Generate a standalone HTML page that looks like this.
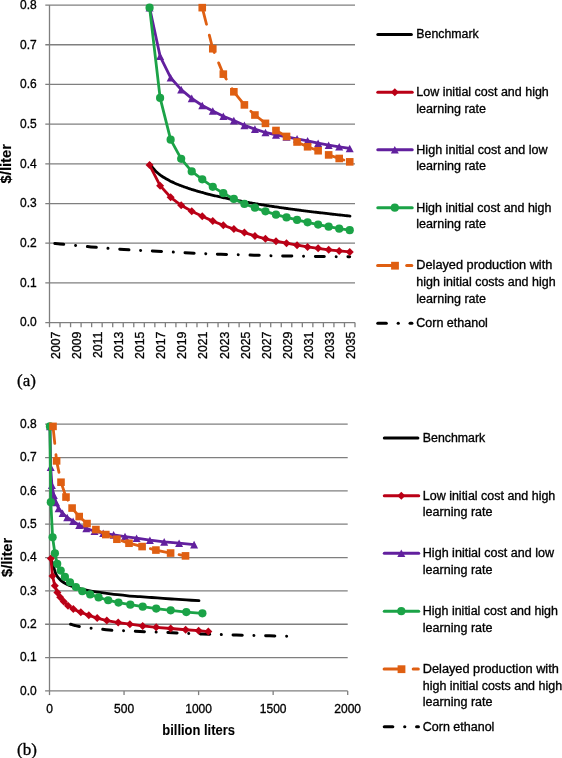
<!DOCTYPE html><html><head><meta charset="utf-8"><style>html,body{margin:0;padding:0;background:#fff;width:562px;height:758px;overflow:hidden}svg{display:block;will-change:transform}text{stroke:#000;stroke-width:0.32px}</style></head><body>
<svg width="562" height="758" viewBox="0 0 562 758">
<rect width="562" height="758" fill="#fff"/>
<line x1="45.3" y1="322.6" x2="355" y2="322.6" stroke="#7F7F7F" stroke-width="1.3"/>
<line x1="45.3" y1="282.91" x2="355" y2="282.91" stroke="#7F7F7F" stroke-width="1.3"/>
<line x1="45.3" y1="243.22" x2="355" y2="243.22" stroke="#7F7F7F" stroke-width="1.3"/>
<line x1="45.3" y1="203.53" x2="355" y2="203.53" stroke="#7F7F7F" stroke-width="1.3"/>
<line x1="45.3" y1="163.84" x2="355" y2="163.84" stroke="#7F7F7F" stroke-width="1.3"/>
<line x1="45.3" y1="124.15" x2="355" y2="124.15" stroke="#7F7F7F" stroke-width="1.3"/>
<line x1="45.3" y1="84.46" x2="355" y2="84.46" stroke="#7F7F7F" stroke-width="1.3"/>
<line x1="45.3" y1="44.77" x2="355" y2="44.77" stroke="#7F7F7F" stroke-width="1.3"/>
<line x1="45.3" y1="5.08" x2="355" y2="5.08" stroke="#7F7F7F" stroke-width="1.3"/>
<line x1="49.5" y1="5.08" x2="49.5" y2="322.6" stroke="#7F7F7F" stroke-width="1.3"/>
<line x1="49.5" y1="322.6" x2="49.5" y2="327.2" stroke="#7F7F7F" stroke-width="1.3"/>
<line x1="60.03" y1="322.6" x2="60.03" y2="327.2" stroke="#7F7F7F" stroke-width="1.3"/>
<line x1="70.57" y1="322.6" x2="70.57" y2="327.2" stroke="#7F7F7F" stroke-width="1.3"/>
<line x1="81.1" y1="322.6" x2="81.1" y2="327.2" stroke="#7F7F7F" stroke-width="1.3"/>
<line x1="91.64" y1="322.6" x2="91.64" y2="327.2" stroke="#7F7F7F" stroke-width="1.3"/>
<line x1="102.17" y1="322.6" x2="102.17" y2="327.2" stroke="#7F7F7F" stroke-width="1.3"/>
<line x1="112.71" y1="322.6" x2="112.71" y2="327.2" stroke="#7F7F7F" stroke-width="1.3"/>
<line x1="123.24" y1="322.6" x2="123.24" y2="327.2" stroke="#7F7F7F" stroke-width="1.3"/>
<line x1="133.78" y1="322.6" x2="133.78" y2="327.2" stroke="#7F7F7F" stroke-width="1.3"/>
<line x1="144.31" y1="322.6" x2="144.31" y2="327.2" stroke="#7F7F7F" stroke-width="1.3"/>
<line x1="154.84" y1="322.6" x2="154.84" y2="327.2" stroke="#7F7F7F" stroke-width="1.3"/>
<line x1="165.38" y1="322.6" x2="165.38" y2="327.2" stroke="#7F7F7F" stroke-width="1.3"/>
<line x1="175.91" y1="322.6" x2="175.91" y2="327.2" stroke="#7F7F7F" stroke-width="1.3"/>
<line x1="186.45" y1="322.6" x2="186.45" y2="327.2" stroke="#7F7F7F" stroke-width="1.3"/>
<line x1="196.98" y1="322.6" x2="196.98" y2="327.2" stroke="#7F7F7F" stroke-width="1.3"/>
<line x1="207.52" y1="322.6" x2="207.52" y2="327.2" stroke="#7F7F7F" stroke-width="1.3"/>
<line x1="218.05" y1="322.6" x2="218.05" y2="327.2" stroke="#7F7F7F" stroke-width="1.3"/>
<line x1="228.59" y1="322.6" x2="228.59" y2="327.2" stroke="#7F7F7F" stroke-width="1.3"/>
<line x1="239.12" y1="322.6" x2="239.12" y2="327.2" stroke="#7F7F7F" stroke-width="1.3"/>
<line x1="249.66" y1="322.6" x2="249.66" y2="327.2" stroke="#7F7F7F" stroke-width="1.3"/>
<line x1="260.19" y1="322.6" x2="260.19" y2="327.2" stroke="#7F7F7F" stroke-width="1.3"/>
<line x1="270.72" y1="322.6" x2="270.72" y2="327.2" stroke="#7F7F7F" stroke-width="1.3"/>
<line x1="281.26" y1="322.6" x2="281.26" y2="327.2" stroke="#7F7F7F" stroke-width="1.3"/>
<line x1="291.79" y1="322.6" x2="291.79" y2="327.2" stroke="#7F7F7F" stroke-width="1.3"/>
<line x1="302.33" y1="322.6" x2="302.33" y2="327.2" stroke="#7F7F7F" stroke-width="1.3"/>
<line x1="312.86" y1="322.6" x2="312.86" y2="327.2" stroke="#7F7F7F" stroke-width="1.3"/>
<line x1="323.4" y1="322.6" x2="323.4" y2="327.2" stroke="#7F7F7F" stroke-width="1.3"/>
<line x1="333.93" y1="322.6" x2="333.93" y2="327.2" stroke="#7F7F7F" stroke-width="1.3"/>
<line x1="344.47" y1="322.6" x2="344.47" y2="327.2" stroke="#7F7F7F" stroke-width="1.3"/>
<line x1="355" y1="322.6" x2="355" y2="327.2" stroke="#7F7F7F" stroke-width="1.3"/>
<text x="36.7" y="326.4" font-family="Liberation Sans, sans-serif" font-size="12" text-anchor="end">0.0</text>
<text x="36.7" y="286.71" font-family="Liberation Sans, sans-serif" font-size="12" text-anchor="end">0.1</text>
<text x="36.7" y="247.02" font-family="Liberation Sans, sans-serif" font-size="12" text-anchor="end">0.2</text>
<text x="36.7" y="207.33" font-family="Liberation Sans, sans-serif" font-size="12" text-anchor="end">0.3</text>
<text x="36.7" y="167.64" font-family="Liberation Sans, sans-serif" font-size="12" text-anchor="end">0.4</text>
<text x="36.7" y="127.95" font-family="Liberation Sans, sans-serif" font-size="12" text-anchor="end">0.5</text>
<text x="36.7" y="88.26" font-family="Liberation Sans, sans-serif" font-size="12" text-anchor="end">0.6</text>
<text x="36.7" y="48.57" font-family="Liberation Sans, sans-serif" font-size="12" text-anchor="end">0.7</text>
<text x="36.7" y="8.88" font-family="Liberation Sans, sans-serif" font-size="12" text-anchor="end">0.8</text>
<text transform="translate(59.97,331.6) rotate(-90)" font-family="Liberation Sans, sans-serif" font-size="12.3" text-anchor="end">2007</text>
<text transform="translate(81.04,331.6) rotate(-90)" font-family="Liberation Sans, sans-serif" font-size="12.3" text-anchor="end">2009</text>
<text transform="translate(102.11,331.6) rotate(-90)" font-family="Liberation Sans, sans-serif" font-size="12.3" text-anchor="end">2011</text>
<text transform="translate(123.17,331.6) rotate(-90)" font-family="Liberation Sans, sans-serif" font-size="12.3" text-anchor="end">2013</text>
<text transform="translate(144.24,331.6) rotate(-90)" font-family="Liberation Sans, sans-serif" font-size="12.3" text-anchor="end">2015</text>
<text transform="translate(165.31,331.6) rotate(-90)" font-family="Liberation Sans, sans-serif" font-size="12.3" text-anchor="end">2017</text>
<text transform="translate(186.38,331.6) rotate(-90)" font-family="Liberation Sans, sans-serif" font-size="12.3" text-anchor="end">2019</text>
<text transform="translate(207.45,331.6) rotate(-90)" font-family="Liberation Sans, sans-serif" font-size="12.3" text-anchor="end">2021</text>
<text transform="translate(228.52,331.6) rotate(-90)" font-family="Liberation Sans, sans-serif" font-size="12.3" text-anchor="end">2023</text>
<text transform="translate(249.59,331.6) rotate(-90)" font-family="Liberation Sans, sans-serif" font-size="12.3" text-anchor="end">2025</text>
<text transform="translate(270.66,331.6) rotate(-90)" font-family="Liberation Sans, sans-serif" font-size="12.3" text-anchor="end">2027</text>
<text transform="translate(291.73,331.6) rotate(-90)" font-family="Liberation Sans, sans-serif" font-size="12.3" text-anchor="end">2029</text>
<text transform="translate(312.79,331.6) rotate(-90)" font-family="Liberation Sans, sans-serif" font-size="12.3" text-anchor="end">2031</text>
<text transform="translate(333.86,331.6) rotate(-90)" font-family="Liberation Sans, sans-serif" font-size="12.3" text-anchor="end">2033</text>
<text transform="translate(354.93,331.6) rotate(-90)" font-family="Liberation Sans, sans-serif" font-size="12.3" text-anchor="end">2035</text>
<text transform="translate(11.3,183.4) rotate(-90)" font-family="Liberation Sans, sans-serif" font-size="14" font-weight="bold" textLength="39.3" lengthAdjust="spacingAndGlyphs" style="stroke-width:0.15px">$/liter</text>
<path d="M54.8,243.5 C55.67,243.57 53.97,243.33 60,243.9 C66.03,244.47 80.33,245.97 91,246.9 C101.67,247.83 113,248.78 124,249.5 C135,250.22 146,250.62 157,251.2 C168,251.78 179.33,252.48 190,253 C200.67,253.52 210.33,253.93 221,254.3 C231.67,254.67 243,254.92 254,255.2 C265,255.48 276,255.78 287,256 C298,256.22 309.55,256.37 320,256.5 C330.45,256.63 344.75,256.75 349.7,256.8" fill="none" stroke="#000" stroke-width="3" stroke-dasharray="9.2 11.7 0.01 11.7" stroke-linecap="round"/>
<path d="M149.6,164.47 C149.67,164.35 149.85,163.75 150,163.74 C150.15,163.73 150.33,164.16 150.5,164.4 C150.67,164.65 150.83,164.94 151,165.2 C151.17,165.47 151.33,165.73 151.5,165.98 C151.67,166.24 151.75,166.37 152,166.72 C152.25,167.07 152.67,167.65 153,168.08 C153.33,168.51 153.58,168.82 154,169.29 C154.42,169.76 155,170.4 155.5,170.91 C156,171.41 156.58,171.95 157,172.33 C157.42,172.72 157.5,172.8 158,173.21 C158.5,173.62 159.33,174.29 160,174.8 C160.67,175.3 161.33,175.77 162,176.23 C162.67,176.68 163.33,177.11 164,177.53 C164.67,177.95 165.33,178.34 166,178.73 C166.67,179.12 167.33,179.49 168,179.85 C168.67,180.21 169.33,180.55 170,180.89 C170.67,181.23 171.33,181.55 172,181.87 C172.67,182.19 173.33,182.5 174,182.8 C174.67,183.1 175.33,183.4 176,183.68 C176.67,183.97 177.33,184.25 178,184.52 C178.67,184.8 179.33,185.07 180,185.33 C180.67,185.59 181.33,185.85 182,186.1 C182.67,186.35 183.33,186.6 184,186.84 C184.67,187.08 185.33,187.32 186,187.55 C186.67,187.78 187.33,188.01 188,188.23 C188.67,188.46 189.33,188.68 190,188.9 C190.67,189.12 191.33,189.33 192,189.54 C192.67,189.75 193.33,189.96 194,190.16 C194.67,190.37 195.33,190.57 196,190.76 C196.67,190.96 197.33,191.16 198,191.35 C198.67,191.54 199.33,191.73 200,191.92 C200.67,192.11 201.33,192.29 202,192.47 C202.67,192.66 203.33,192.84 204,193.01 C204.67,193.19 205.33,193.37 206,193.54 C206.67,193.71 207.33,193.89 208,194.06 C208.67,194.22 209.33,194.39 210,194.56 C210.67,194.72 211.33,194.89 212,195.05 C212.67,195.21 213.33,195.37 214,195.53 C214.67,195.69 215.33,195.84 216,196 C216.67,196.15 217.33,196.31 218,196.46 C218.67,196.61 219.33,196.76 220,196.91 C220.67,197.06 221.33,197.21 222,197.35 C222.67,197.5 223.33,197.64 224,197.79 C224.67,197.93 225.33,198.07 226,198.21 C226.67,198.35 227.33,198.49 228,198.63 C228.67,198.77 229.33,198.9 230,199.04 C230.67,199.17 231.33,199.31 232,199.44 C232.67,199.58 233.33,199.71 234,199.84 C234.67,199.97 235.33,200.1 236,200.23 C236.67,200.36 237.33,200.49 238,200.61 C238.67,200.74 239.33,200.86 240,200.99 C240.67,201.11 241.33,201.24 242,201.36 C242.67,201.48 243.33,201.61 244,201.73 C244.67,201.85 245.33,201.97 246,202.09 C246.67,202.21 247.33,202.33 248,202.44 C248.67,202.56 249.33,202.68 250,202.79 C250.67,202.91 251.33,203.02 252,203.14 C252.67,203.25 253.33,203.37 254,203.48 C254.67,203.59 255.33,203.7 256,203.81 C256.67,203.93 257.33,204.04 258,204.15 C258.67,204.26 259.33,204.36 260,204.47 C260.67,204.58 261.33,204.69 262,204.8 C262.67,204.9 263.33,205.01 264,205.11 C264.67,205.22 265.33,205.32 266,205.43 C266.67,205.53 267.33,205.64 268,205.74 C268.67,205.84 269.33,205.94 270,206.05 C270.67,206.15 271.33,206.25 272,206.35 C272.67,206.45 273.33,206.55 274,206.65 C274.67,206.75 275.33,206.85 276,206.95 C276.67,207.04 277.33,207.14 278,207.24 C278.67,207.34 279.33,207.43 280,207.53 C280.67,207.62 281.33,207.72 282,207.81 C282.67,207.91 283.33,208 284,208.1 C284.67,208.19 285.33,208.29 286,208.38 C286.67,208.47 287.33,208.56 288,208.66 C288.67,208.75 289.33,208.84 290,208.93 C290.67,209.02 291.33,209.11 292,209.2 C292.67,209.29 293.33,209.38 294,209.47 C294.67,209.56 295.33,209.65 296,209.74 C296.67,209.83 297.33,209.91 298,210 C298.67,210.09 299.33,210.17 300,210.26 C300.67,210.35 301.33,210.43 302,210.52 C302.67,210.61 303.33,210.69 304,210.78 C304.67,210.86 305.33,210.95 306,211.03 C306.67,211.11 307.33,211.2 308,211.28 C308.67,211.36 309.33,211.45 310,211.53 C310.67,211.61 311.33,211.69 312,211.78 C312.67,211.86 313.33,211.94 314,212.02 C314.67,212.1 315.33,212.18 316,212.26 C316.67,212.34 317.33,212.42 318,212.5 C318.67,212.58 319.33,212.66 320,212.74 C320.67,212.82 321.33,212.9 322,212.98 C322.67,213.05 323.33,213.13 324,213.21 C324.67,213.29 325.33,213.37 326,213.44 C326.67,213.52 327.33,213.6 328,213.67 C328.67,213.75 329.33,213.83 330,213.9 C330.67,213.98 331.33,214.05 332,214.13 C332.67,214.2 333.33,214.28 334,214.35 C334.67,214.43 335.33,214.5 336,214.57 C336.67,214.65 337.33,214.72 338,214.8 C338.67,214.87 339.33,214.94 340,215.01 C340.67,215.09 341.33,215.16 342,215.23 C342.67,215.3 343.33,215.38 344,215.45 C344.67,215.52 345.33,215.59 346,215.66 C346.67,215.73 347.33,215.8 348,215.87 C348.67,215.95 349.67,216.05 350,216.09" fill="none" stroke="#000" stroke-width="2.8" stroke-linecap="round" stroke-linejoin="round"/>
<polyline points="149.58,165.03 160.11,185.67 170.65,197.3 181.18,205.32 191.72,211.19 202.25,216.23 212.78,221.11 223.32,225.2 233.85,229.09 244.39,232.58 254.92,235.92 265.46,238.81 275.99,241.24 286.53,243.22 297.06,245.2 307.59,246.91 318.13,248.3 328.66,249.81 339.2,250.88 349.73,251.91" fill="none" stroke="#BA0016" stroke-width="2.8" stroke-linecap="round" stroke-linejoin="round"/>
<path d="M149.58,161.03 L153.58,165.03 L149.58,169.03 L145.58,165.03 Z" fill="#BA0016"/>
<path d="M160.11,181.67 L164.11,185.67 L160.11,189.67 L156.11,185.67 Z" fill="#BA0016"/>
<path d="M170.65,193.3 L174.65,197.3 L170.65,201.3 L166.65,197.3 Z" fill="#BA0016"/>
<path d="M181.18,201.32 L185.18,205.32 L181.18,209.32 L177.18,205.32 Z" fill="#BA0016"/>
<path d="M191.72,207.19 L195.72,211.19 L191.72,215.19 L187.72,211.19 Z" fill="#BA0016"/>
<path d="M202.25,212.23 L206.25,216.23 L202.25,220.23 L198.25,216.23 Z" fill="#BA0016"/>
<path d="M212.78,217.11 L216.78,221.11 L212.78,225.11 L208.78,221.11 Z" fill="#BA0016"/>
<path d="M223.32,221.2 L227.32,225.2 L223.32,229.2 L219.32,225.2 Z" fill="#BA0016"/>
<path d="M233.85,225.09 L237.85,229.09 L233.85,233.09 L229.85,229.09 Z" fill="#BA0016"/>
<path d="M244.39,228.58 L248.39,232.58 L244.39,236.58 L240.39,232.58 Z" fill="#BA0016"/>
<path d="M254.92,231.92 L258.92,235.92 L254.92,239.92 L250.92,235.92 Z" fill="#BA0016"/>
<path d="M265.46,234.81 L269.46,238.81 L265.46,242.81 L261.46,238.81 Z" fill="#BA0016"/>
<path d="M275.99,237.24 L279.99,241.24 L275.99,245.24 L271.99,241.24 Z" fill="#BA0016"/>
<path d="M286.53,239.22 L290.53,243.22 L286.53,247.22 L282.53,243.22 Z" fill="#BA0016"/>
<path d="M297.06,241.2 L301.06,245.2 L297.06,249.2 L293.06,245.2 Z" fill="#BA0016"/>
<path d="M307.59,242.91 L311.59,246.91 L307.59,250.91 L303.59,246.91 Z" fill="#BA0016"/>
<path d="M318.13,244.3 L322.13,248.3 L318.13,252.3 L314.13,248.3 Z" fill="#BA0016"/>
<path d="M328.66,245.81 L332.66,249.81 L328.66,253.81 L324.66,249.81 Z" fill="#BA0016"/>
<path d="M339.2,246.88 L343.2,250.88 L339.2,254.88 L335.2,250.88 Z" fill="#BA0016"/>
<path d="M349.73,247.91 L353.73,251.91 L349.73,255.91 L345.73,251.91 Z" fill="#BA0016"/>
<polyline points="149.58,7.66 160.11,56.28 170.65,77.71 181.18,89.62 191.72,98.35 202.25,105.5 212.78,111.05 223.32,116.21 233.85,120.58 244.39,125.34 254.92,129.11 265.46,132.48 275.99,134.87 286.53,136.85 297.06,138.84 307.59,140.82 318.13,143.2 328.66,145.19 339.2,146.77 349.73,148.48" fill="none" stroke="#62209E" stroke-width="2.8" stroke-linecap="round" stroke-linejoin="round"/>
<path d="M149.58,3.86 L153.58,11.46 L145.58,11.46 Z" fill="#62209E"/>
<path d="M160.11,52.48 L164.11,60.08 L156.11,60.08 Z" fill="#62209E"/>
<path d="M170.65,73.91 L174.65,81.51 L166.65,81.51 Z" fill="#62209E"/>
<path d="M181.18,85.82 L185.18,93.42 L177.18,93.42 Z" fill="#62209E"/>
<path d="M191.72,94.55 L195.72,102.15 L187.72,102.15 Z" fill="#62209E"/>
<path d="M202.25,101.7 L206.25,109.3 L198.25,109.3 Z" fill="#62209E"/>
<path d="M212.78,107.25 L216.78,114.85 L208.78,114.85 Z" fill="#62209E"/>
<path d="M223.32,112.41 L227.32,120.01 L219.32,120.01 Z" fill="#62209E"/>
<path d="M233.85,116.78 L237.85,124.38 L229.85,124.38 Z" fill="#62209E"/>
<path d="M244.39,121.54 L248.39,129.14 L240.39,129.14 Z" fill="#62209E"/>
<path d="M254.92,125.31 L258.92,132.91 L250.92,132.91 Z" fill="#62209E"/>
<path d="M265.46,128.68 L269.46,136.28 L261.46,136.28 Z" fill="#62209E"/>
<path d="M275.99,131.07 L279.99,138.67 L271.99,138.67 Z" fill="#62209E"/>
<path d="M286.53,133.05 L290.53,140.65 L282.53,140.65 Z" fill="#62209E"/>
<path d="M297.06,135.04 L301.06,142.64 L293.06,142.64 Z" fill="#62209E"/>
<path d="M307.59,137.02 L311.59,144.62 L303.59,144.62 Z" fill="#62209E"/>
<path d="M318.13,139.4 L322.13,147 L314.13,147 Z" fill="#62209E"/>
<path d="M328.66,141.39 L332.66,148.99 L324.66,148.99 Z" fill="#62209E"/>
<path d="M339.2,142.97 L343.2,150.57 L335.2,150.57 Z" fill="#62209E"/>
<path d="M349.73,144.68 L353.73,152.28 L345.73,152.28 Z" fill="#62209E"/>
<polyline points="149.58,7.66 160.11,97.95 170.65,139.63 181.18,158.8 191.72,171.38 202.25,179.32 212.78,186.86 223.32,193.21 233.85,198.89 244.39,203.93 254.92,207.7 265.46,211.31 275.99,214.64 286.53,217.42 297.06,219.88 307.59,222.3 318.13,224.57 328.66,226.71 339.2,228.69 349.73,230.2" fill="none" stroke="#1BA347" stroke-width="2.8" stroke-linecap="round" stroke-linejoin="round"/>
<circle cx="149.58" cy="7.66" r="4.1" fill="#1BA347"/>
<circle cx="160.11" cy="97.95" r="4.1" fill="#1BA347"/>
<circle cx="170.65" cy="139.63" r="4.1" fill="#1BA347"/>
<circle cx="181.18" cy="158.8" r="4.1" fill="#1BA347"/>
<circle cx="191.72" cy="171.38" r="4.1" fill="#1BA347"/>
<circle cx="202.25" cy="179.32" r="4.1" fill="#1BA347"/>
<circle cx="212.78" cy="186.86" r="4.1" fill="#1BA347"/>
<circle cx="223.32" cy="193.21" r="4.1" fill="#1BA347"/>
<circle cx="233.85" cy="198.89" r="4.1" fill="#1BA347"/>
<circle cx="244.39" cy="203.93" r="4.1" fill="#1BA347"/>
<circle cx="254.92" cy="207.7" r="4.1" fill="#1BA347"/>
<circle cx="265.46" cy="211.31" r="4.1" fill="#1BA347"/>
<circle cx="275.99" cy="214.64" r="4.1" fill="#1BA347"/>
<circle cx="286.53" cy="217.42" r="4.1" fill="#1BA347"/>
<circle cx="297.06" cy="219.88" r="4.1" fill="#1BA347"/>
<circle cx="307.59" cy="222.3" r="4.1" fill="#1BA347"/>
<circle cx="318.13" cy="224.57" r="4.1" fill="#1BA347"/>
<circle cx="328.66" cy="226.71" r="4.1" fill="#1BA347"/>
<circle cx="339.2" cy="228.69" r="4.1" fill="#1BA347"/>
<circle cx="349.73" cy="230.2" r="4.1" fill="#1BA347"/>
<polyline points="202.25,7.66 212.78,48.74 223.32,74.14 233.85,91.8 244.39,104.9 254.92,115.02 265.46,123.36 275.99,130.5 286.53,136.45 297.06,142.01 307.59,146.77 318.13,150.74 328.66,154.91 339.2,158.48 349.73,161.86" fill="none" stroke="#DF5F12" stroke-width="2.8" stroke-dasharray="18 11.3" stroke-dashoffset="0.9" stroke-linecap="round" stroke-linejoin="round"/>
<rect x="198.45" y="3.86" width="7.6" height="7.6" fill="#DF5F12"/>
<rect x="208.98" y="44.94" width="7.6" height="7.6" fill="#DF5F12"/>
<rect x="219.52" y="70.34" width="7.6" height="7.6" fill="#DF5F12"/>
<rect x="230.05" y="88" width="7.6" height="7.6" fill="#DF5F12"/>
<rect x="240.59" y="101.1" width="7.6" height="7.6" fill="#DF5F12"/>
<rect x="251.12" y="111.22" width="7.6" height="7.6" fill="#DF5F12"/>
<rect x="261.66" y="119.56" width="7.6" height="7.6" fill="#DF5F12"/>
<rect x="272.19" y="126.7" width="7.6" height="7.6" fill="#DF5F12"/>
<rect x="282.73" y="132.65" width="7.6" height="7.6" fill="#DF5F12"/>
<rect x="293.26" y="138.21" width="7.6" height="7.6" fill="#DF5F12"/>
<rect x="303.79" y="142.97" width="7.6" height="7.6" fill="#DF5F12"/>
<rect x="314.33" y="146.94" width="7.6" height="7.6" fill="#DF5F12"/>
<rect x="324.86" y="151.11" width="7.6" height="7.6" fill="#DF5F12"/>
<rect x="335.4" y="154.68" width="7.6" height="7.6" fill="#DF5F12"/>
<rect x="345.93" y="158.06" width="7.6" height="7.6" fill="#DF5F12"/>
<g transform="translate(0,0)">
<line x1="377.8" y1="34.5" x2="411.4" y2="34.5" stroke="#000" stroke-width="3" stroke-linecap="round"/>
<line x1="377.8" y1="92.3" x2="412.2" y2="92.3" stroke="#BA0016" stroke-width="3" stroke-linecap="round"/>
<path d="M394.8,88.3 L398.8,92.3 L394.8,96.3 L390.8,92.3 Z" fill="#BA0016"/>
<line x1="377.8" y1="149.8" x2="412.2" y2="149.8" stroke="#62209E" stroke-width="3" stroke-linecap="round"/>
<path d="M394.8,146 L398.8,153.6 L390.8,153.6 Z" fill="#62209E"/>
<line x1="377.8" y1="207.7" x2="412.2" y2="207.7" stroke="#1BA347" stroke-width="3" stroke-linecap="round"/>
<circle cx="394.8" cy="207.7" r="4.1" fill="#1BA347"/>
<line x1="377.6" y1="265.5" x2="392" y2="265.5" stroke="#DF5F12" stroke-width="3" stroke-linecap="round"/>
<rect x="391.1" y="261.8" width="7.8" height="7.8" fill="#DF5F12"/>
<line x1="406.7" y1="265.5" x2="411.8" y2="265.5" stroke="#DF5F12" stroke-width="3" stroke-linecap="round"/>
<line x1="377.8" y1="323.3" x2="386.3" y2="323.3" stroke="#000" stroke-width="3.1" stroke-linecap="round"/>
<line x1="398.2" y1="323.3" x2="398.3" y2="323.3" stroke="#000" stroke-width="3.1" stroke-linecap="round"/>
<line x1="410.1" y1="323.3" x2="411.9" y2="323.3" stroke="#000" stroke-width="3.1" stroke-linecap="round"/>
<text x="416.3" y="38.4" font-family="Liberation Sans, sans-serif" font-size="12" textLength="62.4" lengthAdjust="spacingAndGlyphs">Benchmark</text>
<text x="416.3" y="96.2" font-family="Liberation Sans, sans-serif" font-size="12" textLength="132.5" lengthAdjust="spacingAndGlyphs">Low initial cost and high</text>
<text x="416.3" y="112.9" font-family="Liberation Sans, sans-serif" font-size="12" textLength="69.7" lengthAdjust="spacingAndGlyphs">learning rate</text>
<text x="416.3" y="153.7" font-family="Liberation Sans, sans-serif" font-size="12" textLength="131.2" lengthAdjust="spacingAndGlyphs">High initial cost and low</text>
<text x="416.3" y="170.4" font-family="Liberation Sans, sans-serif" font-size="12" textLength="69.7" lengthAdjust="spacingAndGlyphs">learning rate</text>
<text x="416.3" y="211.6" font-family="Liberation Sans, sans-serif" font-size="12" textLength="135.2" lengthAdjust="spacingAndGlyphs">High initial cost and high</text>
<text x="416.3" y="228.3" font-family="Liberation Sans, sans-serif" font-size="12" textLength="69.7" lengthAdjust="spacingAndGlyphs">learning rate</text>
<text x="416.3" y="269.4" font-family="Liberation Sans, sans-serif" font-size="12" textLength="136" lengthAdjust="spacingAndGlyphs">Delayed production with</text>
<text x="416.3" y="286.1" font-family="Liberation Sans, sans-serif" font-size="12" textLength="139.3" lengthAdjust="spacingAndGlyphs">high initial costs and high</text>
<text x="416.3" y="302.8" font-family="Liberation Sans, sans-serif" font-size="12" textLength="69.7" lengthAdjust="spacingAndGlyphs">learning rate</text>
<text x="416.3" y="327.2" font-family="Liberation Sans, sans-serif" font-size="12" textLength="71.6" lengthAdjust="spacingAndGlyphs">Corn ethanol</text>
</g>
<text x="17" y="386.3" font-family="Liberation Serif, serif" font-size="17">(a)</text>
<line x1="45.1" y1="690.9" x2="347.7" y2="690.9" stroke="#7F7F7F" stroke-width="1.3"/>
<line x1="45.1" y1="657.56" x2="347.7" y2="657.56" stroke="#7F7F7F" stroke-width="1.3"/>
<line x1="45.1" y1="624.23" x2="347.7" y2="624.23" stroke="#7F7F7F" stroke-width="1.3"/>
<line x1="45.1" y1="590.89" x2="347.7" y2="590.89" stroke="#7F7F7F" stroke-width="1.3"/>
<line x1="45.1" y1="557.56" x2="347.7" y2="557.56" stroke="#7F7F7F" stroke-width="1.3"/>
<line x1="45.1" y1="524.22" x2="347.7" y2="524.22" stroke="#7F7F7F" stroke-width="1.3"/>
<line x1="45.1" y1="490.89" x2="347.7" y2="490.89" stroke="#7F7F7F" stroke-width="1.3"/>
<line x1="45.1" y1="457.55" x2="347.7" y2="457.55" stroke="#7F7F7F" stroke-width="1.3"/>
<line x1="45.1" y1="424.22" x2="347.7" y2="424.22" stroke="#7F7F7F" stroke-width="1.3"/>
<line x1="49.5" y1="424.22" x2="49.5" y2="690.9" stroke="#7F7F7F" stroke-width="1.3"/>
<line x1="49.5" y1="690.9" x2="49.5" y2="695.1" stroke="#7F7F7F" stroke-width="1.3"/>
<line x1="124.05" y1="690.9" x2="124.05" y2="695.1" stroke="#7F7F7F" stroke-width="1.3"/>
<line x1="198.6" y1="690.9" x2="198.6" y2="695.1" stroke="#7F7F7F" stroke-width="1.3"/>
<line x1="273.15" y1="690.9" x2="273.15" y2="695.1" stroke="#7F7F7F" stroke-width="1.3"/>
<line x1="347.7" y1="690.9" x2="347.7" y2="695.1" stroke="#7F7F7F" stroke-width="1.3"/>
<text x="36.7" y="694.7" font-family="Liberation Sans, sans-serif" font-size="12" text-anchor="end">0.0</text>
<text x="36.7" y="661.36" font-family="Liberation Sans, sans-serif" font-size="12" text-anchor="end">0.1</text>
<text x="36.7" y="628.03" font-family="Liberation Sans, sans-serif" font-size="12" text-anchor="end">0.2</text>
<text x="36.7" y="594.69" font-family="Liberation Sans, sans-serif" font-size="12" text-anchor="end">0.3</text>
<text x="36.7" y="561.36" font-family="Liberation Sans, sans-serif" font-size="12" text-anchor="end">0.4</text>
<text x="36.7" y="528.02" font-family="Liberation Sans, sans-serif" font-size="12" text-anchor="end">0.5</text>
<text x="36.7" y="494.69" font-family="Liberation Sans, sans-serif" font-size="12" text-anchor="end">0.6</text>
<text x="36.7" y="461.35" font-family="Liberation Sans, sans-serif" font-size="12" text-anchor="end">0.7</text>
<text x="36.7" y="428.02" font-family="Liberation Sans, sans-serif" font-size="12" text-anchor="end">0.8</text>
<text x="49.5" y="712.8" font-family="Liberation Sans, sans-serif" font-size="12" text-anchor="middle">0</text>
<text x="124.05" y="712.8" font-family="Liberation Sans, sans-serif" font-size="12" text-anchor="middle">500</text>
<text x="198.6" y="712.8" font-family="Liberation Sans, sans-serif" font-size="12" text-anchor="middle">1000</text>
<text x="273.15" y="712.8" font-family="Liberation Sans, sans-serif" font-size="12" text-anchor="middle">1500</text>
<text x="347.7" y="712.8" font-family="Liberation Sans, sans-serif" font-size="12" text-anchor="middle">2000</text>
<text x="198.6" y="734.6" font-family="Liberation Sans, sans-serif" font-size="14" font-weight="bold" text-anchor="middle" textLength="72.6" lengthAdjust="spacingAndGlyphs" style="stroke-width:0.1px">billion liters</text>
<text transform="translate(11.5,577) rotate(-90)" font-family="Liberation Sans, sans-serif" font-size="14" font-weight="bold" textLength="39.3" lengthAdjust="spacingAndGlyphs" style="stroke-width:0.15px">$/liter</text>
<path d="M70.6,624.2 C71.33,624.42 73.38,625.1 75,625.5 C76.62,625.9 77.53,626.15 80.3,626.6 C83.07,627.05 87.87,627.75 91.6,628.2 C95.33,628.65 99.25,628.95 102.7,629.3 C106.15,629.65 108.82,630.05 112.3,630.3 C115.78,630.55 119.87,630.65 123.6,630.8 C127.33,630.95 131.07,631.05 134.7,631.2 C138.33,631.35 141.77,631.55 145.4,631.7 C149.03,631.85 152.77,631.97 156.5,632.1 C160.23,632.23 164.13,632.35 167.8,632.5 C171.47,632.65 175.05,632.85 178.5,633 C181.95,633.15 184.92,633.25 188.5,633.4 C192.08,633.55 196.22,633.77 200,633.9 C203.78,634.03 207.63,634.08 211.2,634.2 C214.77,634.32 217.85,634.47 221.4,634.6 C224.95,634.73 228.8,634.9 232.5,635 C236.2,635.1 240.07,635.12 243.6,635.2 C247.13,635.28 250.17,635.42 253.7,635.5 C257.23,635.58 261.08,635.62 264.8,635.7 C268.52,635.78 272.3,635.92 276,636 C279.7,636.08 285.17,636.17 287,636.2" fill="none" stroke="#000" stroke-width="3" stroke-dasharray="9.2 11.7 0.01 11.7" stroke-linecap="round"/>
<path d="M51.1,558.6 C51.3,559.27 51.87,561.18 52.3,562.6 C52.73,564.02 53.28,565.72 53.7,567.1 C54.12,568.48 54.33,569.55 54.8,570.9 C55.27,572.25 55.73,573.85 56.5,575.2 C57.27,576.55 58.33,577.87 59.4,579 C60.47,580.13 61.6,581.08 62.9,582 C64.2,582.92 65.65,583.75 67.2,584.5 C68.75,585.25 70.42,585.88 72.2,586.5 C73.98,587.12 75.53,587.6 77.9,588.2 C80.27,588.8 83.38,589.5 86.4,590.1 C89.42,590.7 92.62,591.27 96,591.8 C99.38,592.33 103.13,592.82 106.7,593.3 C110.27,593.78 113.85,594.28 117.4,594.7 C120.95,595.12 124.23,595.47 128,595.8 C131.77,596.13 136.07,596.42 140,596.7 C143.93,596.98 147.75,597.22 151.6,597.5 C155.45,597.78 159.25,598.12 163.1,598.4 C166.95,598.68 170.83,598.94 174.7,599.2 C178.57,599.46 182.25,599.7 186.3,599.95 C190.35,600.2 196.88,600.58 199,600.7" fill="none" stroke="#000" stroke-width="2.8" stroke-linecap="round" stroke-linejoin="round"/>
<polyline points="50.9,558.56 52.5,575.89 54.8,585.66 57.4,592.4 60.2,597.33 63.7,601.56 68,605.66 73.3,609.1 80.8,612.36 88.8,615.3 97.2,618.1 106.8,620.53 118.2,622.56 129.9,624.23 142.7,625.9 156.2,627.33 170.7,628.5 185.6,629.76 198.6,630.66 208.3,631.53" fill="none" stroke="#BA0016" stroke-width="2.8" stroke-linecap="round" stroke-linejoin="round"/>
<path d="M50.9,554.56 L54.9,558.56 L50.9,562.56 L46.9,558.56 Z" fill="#BA0016"/>
<path d="M52.5,571.89 L56.5,575.89 L52.5,579.89 L48.5,575.89 Z" fill="#BA0016"/>
<path d="M54.8,581.66 L58.8,585.66 L54.8,589.66 L50.8,585.66 Z" fill="#BA0016"/>
<path d="M57.4,588.4 L61.4,592.4 L57.4,596.4 L53.4,592.4 Z" fill="#BA0016"/>
<path d="M60.2,593.33 L64.2,597.33 L60.2,601.33 L56.2,597.33 Z" fill="#BA0016"/>
<path d="M63.7,597.56 L67.7,601.56 L63.7,605.56 L59.7,601.56 Z" fill="#BA0016"/>
<path d="M68,601.66 L72,605.66 L68,609.66 L64,605.66 Z" fill="#BA0016"/>
<path d="M73.3,605.1 L77.3,609.1 L73.3,613.1 L69.3,609.1 Z" fill="#BA0016"/>
<path d="M80.8,608.36 L84.8,612.36 L80.8,616.36 L76.8,612.36 Z" fill="#BA0016"/>
<path d="M88.8,611.3 L92.8,615.3 L88.8,619.3 L84.8,615.3 Z" fill="#BA0016"/>
<path d="M97.2,614.1 L101.2,618.1 L97.2,622.1 L93.2,618.1 Z" fill="#BA0016"/>
<path d="M106.8,616.53 L110.8,620.53 L106.8,624.53 L102.8,620.53 Z" fill="#BA0016"/>
<path d="M118.2,618.56 L122.2,622.56 L118.2,626.56 L114.2,622.56 Z" fill="#BA0016"/>
<path d="M129.9,620.23 L133.9,624.23 L129.9,628.23 L125.9,624.23 Z" fill="#BA0016"/>
<path d="M142.7,621.9 L146.7,625.9 L142.7,629.9 L138.7,625.9 Z" fill="#BA0016"/>
<path d="M156.2,623.33 L160.2,627.33 L156.2,631.33 L152.2,627.33 Z" fill="#BA0016"/>
<path d="M170.7,624.5 L174.7,628.5 L170.7,632.5 L166.7,628.5 Z" fill="#BA0016"/>
<path d="M185.6,625.76 L189.6,629.76 L185.6,633.76 L181.6,629.76 Z" fill="#BA0016"/>
<path d="M198.6,626.66 L202.6,630.66 L198.6,634.66 L194.6,630.66 Z" fill="#BA0016"/>
<path d="M208.3,627.53 L212.3,631.53 L208.3,635.53 L204.3,631.53 Z" fill="#BA0016"/>
<polyline points="50,426.39 50.7,467.22 51.9,485.22 53.8,495.22 56,502.56 58.6,508.56 62.6,513.22 67.2,517.56 73.1,521.22 79.2,525.23 86.3,528.39 94.5,531.23 103.2,533.23 113.6,534.89 125,536.56 136.6,538.23 149.9,540.23 164.2,541.89 179.1,543.23 194.1,544.66" fill="none" stroke="#62209E" stroke-width="2.8" stroke-linecap="round" stroke-linejoin="round"/>
<path d="M50,422.59 L54,430.19 L46,430.19 Z" fill="#62209E"/>
<path d="M50.7,463.42 L54.7,471.02 L46.7,471.02 Z" fill="#62209E"/>
<path d="M51.9,481.42 L55.9,489.02 L47.9,489.02 Z" fill="#62209E"/>
<path d="M53.8,491.42 L57.8,499.02 L49.8,499.02 Z" fill="#62209E"/>
<path d="M56,498.76 L60,506.36 L52,506.36 Z" fill="#62209E"/>
<path d="M58.6,504.76 L62.6,512.36 L54.6,512.36 Z" fill="#62209E"/>
<path d="M62.6,509.42 L66.6,517.02 L58.6,517.02 Z" fill="#62209E"/>
<path d="M67.2,513.76 L71.2,521.36 L63.2,521.36 Z" fill="#62209E"/>
<path d="M73.1,517.42 L77.1,525.02 L69.1,525.02 Z" fill="#62209E"/>
<path d="M79.2,521.43 L83.2,529.03 L75.2,529.03 Z" fill="#62209E"/>
<path d="M86.3,524.59 L90.3,532.19 L82.3,532.19 Z" fill="#62209E"/>
<path d="M94.5,527.43 L98.5,535.03 L90.5,535.03 Z" fill="#62209E"/>
<path d="M103.2,529.43 L107.2,537.03 L99.2,537.03 Z" fill="#62209E"/>
<path d="M113.6,531.09 L117.6,538.69 L109.6,538.69 Z" fill="#62209E"/>
<path d="M125,532.76 L129,540.36 L121,540.36 Z" fill="#62209E"/>
<path d="M136.6,534.43 L140.6,542.03 L132.6,542.03 Z" fill="#62209E"/>
<path d="M149.9,536.43 L153.9,544.03 L145.9,544.03 Z" fill="#62209E"/>
<path d="M164.2,538.09 L168.2,545.69 L160.2,545.69 Z" fill="#62209E"/>
<path d="M179.1,539.43 L183.1,547.03 L175.1,547.03 Z" fill="#62209E"/>
<path d="M194.1,540.86 L198.1,548.46 L190.1,548.46 Z" fill="#62209E"/>
<polyline points="49.9,426.39 50.8,502.22 52.6,537.23 54.9,553.33 57.2,563.89 60.7,570.56 64.9,576.89 70,582.23 75.9,586.99 82.3,591.23 90.2,594.4 98.6,597.43 108.2,600.23 118.5,602.56 130.3,604.63 142.7,606.66 156.2,608.56 170.7,610.36 186.3,612.03 202.4,613.3" fill="none" stroke="#1BA347" stroke-width="2.8" stroke-linecap="round" stroke-linejoin="round"/>
<circle cx="49.9" cy="426.39" r="4.1" fill="#1BA347"/>
<circle cx="50.8" cy="502.22" r="4.1" fill="#1BA347"/>
<circle cx="52.6" cy="537.23" r="4.1" fill="#1BA347"/>
<circle cx="54.9" cy="553.33" r="4.1" fill="#1BA347"/>
<circle cx="57.2" cy="563.89" r="4.1" fill="#1BA347"/>
<circle cx="60.7" cy="570.56" r="4.1" fill="#1BA347"/>
<circle cx="64.9" cy="576.89" r="4.1" fill="#1BA347"/>
<circle cx="70" cy="582.23" r="4.1" fill="#1BA347"/>
<circle cx="75.9" cy="586.99" r="4.1" fill="#1BA347"/>
<circle cx="82.3" cy="591.23" r="4.1" fill="#1BA347"/>
<circle cx="90.2" cy="594.4" r="4.1" fill="#1BA347"/>
<circle cx="98.6" cy="597.43" r="4.1" fill="#1BA347"/>
<circle cx="108.2" cy="600.23" r="4.1" fill="#1BA347"/>
<circle cx="118.5" cy="602.56" r="4.1" fill="#1BA347"/>
<circle cx="130.3" cy="604.63" r="4.1" fill="#1BA347"/>
<circle cx="142.7" cy="606.66" r="4.1" fill="#1BA347"/>
<circle cx="156.2" cy="608.56" r="4.1" fill="#1BA347"/>
<circle cx="170.7" cy="610.36" r="4.1" fill="#1BA347"/>
<circle cx="186.3" cy="612.03" r="4.1" fill="#1BA347"/>
<circle cx="202.4" cy="613.3" r="4.1" fill="#1BA347"/>
<polyline points="53,426.39 56.6,460.89 61,482.22 66,497.06 72.1,508.06 79.2,516.56 87,523.56 95.9,529.56 105.8,534.56 116.9,539.23 129,543.23 142.1,546.56 155.9,550.06 170.6,553.06 185.5,555.89" fill="none" stroke="#DF5F12" stroke-width="2.8" stroke-dasharray="18 11.3" stroke-dashoffset="0.9" stroke-linecap="round" stroke-linejoin="round"/>
<rect x="49.2" y="422.59" width="7.6" height="7.6" fill="#DF5F12"/>
<rect x="52.8" y="457.09" width="7.6" height="7.6" fill="#DF5F12"/>
<rect x="57.2" y="478.42" width="7.6" height="7.6" fill="#DF5F12"/>
<rect x="62.2" y="493.26" width="7.6" height="7.6" fill="#DF5F12"/>
<rect x="68.3" y="504.26" width="7.6" height="7.6" fill="#DF5F12"/>
<rect x="75.4" y="512.76" width="7.6" height="7.6" fill="#DF5F12"/>
<rect x="83.2" y="519.76" width="7.6" height="7.6" fill="#DF5F12"/>
<rect x="92.1" y="525.76" width="7.6" height="7.6" fill="#DF5F12"/>
<rect x="102" y="530.76" width="7.6" height="7.6" fill="#DF5F12"/>
<rect x="113.1" y="535.43" width="7.6" height="7.6" fill="#DF5F12"/>
<rect x="125.2" y="539.43" width="7.6" height="7.6" fill="#DF5F12"/>
<rect x="138.3" y="542.76" width="7.6" height="7.6" fill="#DF5F12"/>
<rect x="152.1" y="546.26" width="7.6" height="7.6" fill="#DF5F12"/>
<rect x="166.8" y="549.26" width="7.6" height="7.6" fill="#DF5F12"/>
<rect x="181.7" y="552.09" width="7.6" height="7.6" fill="#DF5F12"/>
<g transform="translate(6.5,403.5)">
<line x1="377.8" y1="34.5" x2="411.4" y2="34.5" stroke="#000" stroke-width="3" stroke-linecap="round"/>
<line x1="377.8" y1="92.3" x2="412.2" y2="92.3" stroke="#BA0016" stroke-width="3" stroke-linecap="round"/>
<path d="M394.8,88.3 L398.8,92.3 L394.8,96.3 L390.8,92.3 Z" fill="#BA0016"/>
<line x1="377.8" y1="149.8" x2="412.2" y2="149.8" stroke="#62209E" stroke-width="3" stroke-linecap="round"/>
<path d="M394.8,146 L398.8,153.6 L390.8,153.6 Z" fill="#62209E"/>
<line x1="377.8" y1="207.7" x2="412.2" y2="207.7" stroke="#1BA347" stroke-width="3" stroke-linecap="round"/>
<circle cx="394.8" cy="207.7" r="4.1" fill="#1BA347"/>
<line x1="377.6" y1="265.5" x2="392" y2="265.5" stroke="#DF5F12" stroke-width="3" stroke-linecap="round"/>
<rect x="391.1" y="261.8" width="7.8" height="7.8" fill="#DF5F12"/>
<line x1="406.7" y1="265.5" x2="411.8" y2="265.5" stroke="#DF5F12" stroke-width="3" stroke-linecap="round"/>
<line x1="377.8" y1="323.3" x2="386.3" y2="323.3" stroke="#000" stroke-width="3.1" stroke-linecap="round"/>
<line x1="398.2" y1="323.3" x2="398.3" y2="323.3" stroke="#000" stroke-width="3.1" stroke-linecap="round"/>
<line x1="410.1" y1="323.3" x2="411.9" y2="323.3" stroke="#000" stroke-width="3.1" stroke-linecap="round"/>
<text x="416.3" y="38.4" font-family="Liberation Sans, sans-serif" font-size="12" textLength="62.4" lengthAdjust="spacingAndGlyphs">Benchmark</text>
<text x="416.3" y="96.2" font-family="Liberation Sans, sans-serif" font-size="12" textLength="132.5" lengthAdjust="spacingAndGlyphs">Low initial cost and high</text>
<text x="416.3" y="112.9" font-family="Liberation Sans, sans-serif" font-size="12" textLength="69.7" lengthAdjust="spacingAndGlyphs">learning rate</text>
<text x="416.3" y="153.7" font-family="Liberation Sans, sans-serif" font-size="12" textLength="131.2" lengthAdjust="spacingAndGlyphs">High initial cost and low</text>
<text x="416.3" y="170.4" font-family="Liberation Sans, sans-serif" font-size="12" textLength="69.7" lengthAdjust="spacingAndGlyphs">learning rate</text>
<text x="416.3" y="211.6" font-family="Liberation Sans, sans-serif" font-size="12" textLength="135.2" lengthAdjust="spacingAndGlyphs">High initial cost and high</text>
<text x="416.3" y="228.3" font-family="Liberation Sans, sans-serif" font-size="12" textLength="69.7" lengthAdjust="spacingAndGlyphs">learning rate</text>
<text x="416.3" y="269.4" font-family="Liberation Sans, sans-serif" font-size="12" textLength="136" lengthAdjust="spacingAndGlyphs">Delayed production with</text>
<text x="416.3" y="286.1" font-family="Liberation Sans, sans-serif" font-size="12" textLength="139.3" lengthAdjust="spacingAndGlyphs">high initial costs and high</text>
<text x="416.3" y="302.8" font-family="Liberation Sans, sans-serif" font-size="12" textLength="69.7" lengthAdjust="spacingAndGlyphs">learning rate</text>
<text x="416.3" y="327.2" font-family="Liberation Sans, sans-serif" font-size="12" textLength="71.6" lengthAdjust="spacingAndGlyphs">Corn ethanol</text>
</g>
<text x="17" y="754.7" font-family="Liberation Serif, serif" font-size="17">(b)</text>
</svg></body></html>
